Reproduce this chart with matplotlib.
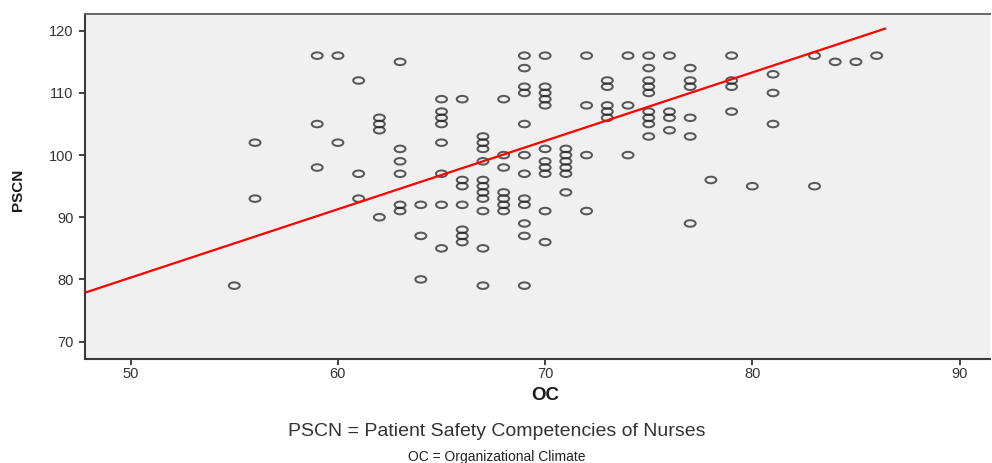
import numpy as np
import matplotlib
matplotlib.use('Agg')
import matplotlib.pyplot as plt
from matplotlib.path import Path

plt.rcParams['font.family'] = ['Liberation Sans', 'DejaVu Sans']

# OC score -> PSCN scores observed at that OC value
oc_values = [55, 56, 59, 60, 61, 62, 63, 64, 65, 66, 67, 68, 69, 70, 71, 72,
             73, 74, 75, 76, 77, 78, 79, 80, 81, 83, 84, 85, 86]
pscn_values = [
    [79],
    [102, 93],
    [116, 105, 98],
    [116, 102],
    [112, 97, 93],
    [106, 105, 104, 90],
    [115, 101, 99, 97, 92, 91],
    [92, 87, 80],
    [109, 107, 106, 105, 102, 97, 92, 85],
    [109, 96, 95, 92, 88, 87, 86],
    [103, 102, 101, 99, 96, 95, 94, 93, 91, 85, 79],
    [109, 100, 98, 94, 93, 92, 91],
    [116, 114, 111, 110, 105, 100, 97, 93, 92, 89, 87, 79],
    [116, 111, 110, 109, 108, 101, 99, 98, 97, 91, 86],
    [101, 100, 99, 98, 97, 94],
    [116, 108, 100, 91],
    [112, 111, 108, 107, 106],
    [116, 108, 100],
    [116, 114, 112, 111, 110, 107, 106, 105, 103],
    [116, 107, 106, 104],
    [114, 112, 111, 106, 103, 89],
    [96],
    [116, 112, 111, 107],
    [95],
    [113, 110, 105],
    [116, 95],
    [115],
    [115],
    [116],
]

# fit line
fit_slope = 1.10
fit_intercept = 25.3
fit_x = [47.78, 86.4]

x_ticks = [50, 60, 70, 80, 90]
y_ticks = [70, 80, 90, 100, 110, 120]

xs = [oc for oc, ys in zip(oc_values, pscn_values) for _ in ys]
ys = [y for ys_ in pscn_values for y in ys_]

# flattened circle, like the stretched SPSS marker
circle = Path.unit_circle()
ellipse = Path(circle.vertices * np.array([1.0, 0.6]), circle.codes)

fig = plt.figure(figsize=(9.92, 4.63), dpi=100)
ax = fig.add_axes([84.7 / 992, 1 - 359 / 463, (990 - 84.7) / 992, (359 - 14) / 463])
ax.set_facecolor('#f0f0f0')

ax.scatter(xs, ys, marker=ellipse, s=62, facecolors='none',
           edgecolors='#1e1e1e', linewidths=1.45, alpha=0.72, zorder=3)

fx = np.array(fit_x)
ax.plot(fx, fit_intercept + fit_slope * fx, color='#ff0000', lw=1.6, zorder=4)

ax.set_xlim(47.78, 91.47)
ax.set_ylim(67.2, 122.7)
ax.set_xticks(x_ticks)
ax.set_yticks(y_ticks)
ax.tick_params(axis='both', direction='out', length=4, width=1.3,
               color='#333333', labelcolor='#333333', labelsize=10.5)
ax.tick_params(axis='x', pad=2)
ax.tick_params(axis='y', pad=4)

for side in ['left', 'bottom']:
    ax.spines[side].set_color('#3a3a3a')
    ax.spines[side].set_linewidth(1.5)
ax.spines['top'].set_color('#666666')
ax.spines['top'].set_linewidth(1.4)
ax.spines['right'].set_visible(False)

fig.text(18 / 992, 1 - 190 / 463, 'PSCN', rotation=90, fontsize=11,
         fontweight='bold', ha='center', va='center', color='#1a1a1a')
fig.text(545 / 992, 1 - 395 / 463, 'OC', fontsize=13.5, fontweight='bold',
         ha='center', va='center', color='#1a1a1a')
fig.text(497 / 992, 1 - 431 / 463, 'PSCN = Patient Safety Competencies of Nurses',
         fontsize=14, ha='center', va='center', color='#333333')
fig.text(497 / 992, 1 - 457.5 / 463, 'OC = Organizational Climate',
         fontsize=10, ha='center', va='center', color='#222222')

fig.savefig('out.png', dpi=100, facecolor='white')
